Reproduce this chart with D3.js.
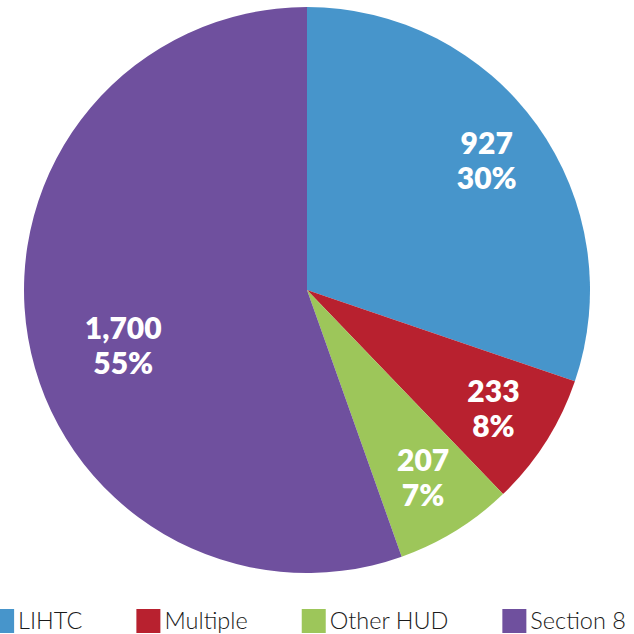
<!DOCTYPE html>
<html>
<head>
<meta charset="utf-8">
<script src="https://cdn.jsdelivr.net/npm/d3@7"></script>
<style>
    html, body { margin: 0; padding: 0; background: #fff; }
    svg { display: block; }
</style>
</head>
<body>
<svg id="chart" width="634" height="634"></svg>
<script>
// data
const categories = ['LIHTC', 'Multiple', 'Other HUD', 'Section 8'];
const values = [927, 233, 207, 1700];
const colors = ['#4795CB', '#B8212F', '#9DC65A', '#6F509E'];

// the big slice has its label pulled in towards the centre
const labelNudge = { 'Section 8': [34, 18] };

const width = 634,
    height = 634,
    cx = 307,
    cy = 290,
    radius = 283;

const svg = d3.select('#chart');

const data = categories.map((name, i) => ({ name, value: values[i], index: i }));
const total = d3.sum(values);

const color = d3.scaleOrdinal().domain(categories).range(colors);

const pie = d3.pie()
    .value(d => d.value)
    .sort(null);

const arc = d3.arc()
    .innerRadius(0)
    .outerRadius(radius);

const labelArc = d3.arc()
    .innerRadius(221)
    .outerRadius(221);

const donut = svg.append('g')
    .attr('transform', `translate(${cx},${cy})`);

const arcs = pie(data);

donut.selectAll('path')
    .data(arcs)
    .enter()
    .append('path')
    .attr('d', arc)
    .attr('fill', d => color(d.data.name));

const fmt = d3.format(',');

const labels = donut.selectAll('text')
    .data(arcs)
    .enter()
    .append('text')
    .attr('transform', d => {
        let [x, y] = labelArc.centroid(d);
        const n = labelNudge[d.data.name] || [0, 0];
        return `translate(${x + n[0]},${y + n[1]})`;
    })
    .attr('text-anchor', 'middle')
    .attr('fill', '#fff')
    .style('font-family', 'Lato, "Open Sans", sans-serif')
    .style('font-weight', 800)
    .style('font-size', '30px');

labels.append('tspan')
    .attr('x', 0)
    .attr('y', -7)
    .text(d => fmt(d.data.value));

labels.append('tspan')
    .attr('x', 0)
    .attr('y', 28)
    .text(d => Math.round(d.data.value / total * 100) + '%');

// legend along the bottom
const legend = svg.append('g')
    .attr('class', 'legend');

const swatch = 24,
    textGap = 4,
    itemGap = 54,
    legendY = 609;

const items = legend.selectAll('g')
    .data(categories)
    .enter()
    .append('g');

items.append('rect')
    .attr('width', swatch)
    .attr('height', swatch)
    .attr('y', legendY)
    .attr('fill', d => color(d));

items.append('text')
    .attr('x', swatch + textGap)
    .attr('y', legendY + 20)
    .attr('fill', '#1a1a1a')
    .style('font-family', 'Lato, "Open Sans", sans-serif')
    .style('font-weight', 300)
    .style('font-size', '23.5px')
    .text(d => d);

let offsets = [], x = 0;
items.each(function () {
    offsets.push(x);
    const w = d3.select(this).select('text').node().getComputedTextLength();
    x += swatch + textGap + w + itemGap;
});
const legendWidth = x - itemGap;
const start = 308 - legendWidth / 2;
items.attr('transform', (d, i) => `translate(${start + offsets[i]},0)`);
</script>
</body>
</html>
